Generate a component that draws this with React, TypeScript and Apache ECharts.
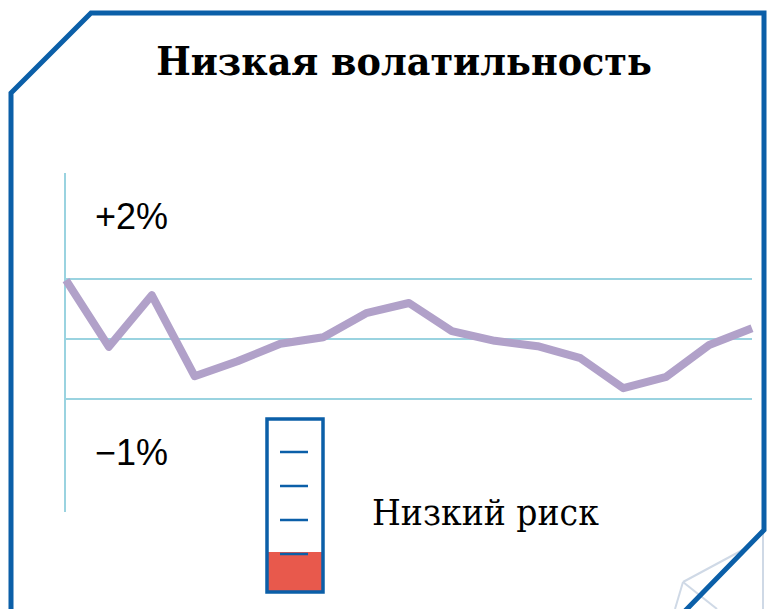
import React, { useEffect, useRef } from "react";
import * as echarts from "echarts";

const titleText = "Низкая волатильность";
const periods = ["1","2","3","4","5","6","7","8","9","10","11","12","13","14","15","16","17"];
const returns = [0.98, -0.13, 0.73, -0.62, -0.37, -0.08, 0.03, 0.43, 0.6, 0.13, -0.03, -0.12, -0.32, -0.82, -0.63, -0.1, 0.18];
const gridValues = [-1, 0, 1];
const scaleLabels = ["+2%", "−1%"];
const riskLabel = "Низкий риск";
const riskLevels = 4;
const riskLevel = 1;

const FRAME = "#0b5fa8";
const GRID = "#9ad3e0";
const LINE = "#b1a1c9";
const RED = "#e8594c";
const FAINT = "#cfd9e6";

export default function App() {
  const ref = useRef<HTMLDivElement>(null);
  useEffect(() => {
    const chart = echarts.init(ref.current!, null, { renderer: "svg" });

    const thermoX = 267, thermoY = 419, thermoW = 56, thermoH = 173;
    const thermo: any[] = [];
    const fillH = 40 * riskLevel;
    thermo.push({ type: "rect", shape: { x: thermoX, y: thermoY + thermoH - fillH, width: thermoW, height: fillH }, style: { fill: RED } });
    for (let i = 1; i <= riskLevels; i++) {
      const y = thermoY + thermoH - 38 - (i - 1) * 34;
      thermo.push({ type: "line", shape: { x1: 280, y1: y, x2: 308, y2: y }, style: { stroke: FRAME, lineWidth: 2.5 } });
    }
    thermo.push({ type: "rect", shape: { x: thermoX, y: thermoY, width: thermoW, height: thermoH }, style: { fill: "none", stroke: FRAME, lineWidth: 3.5 } });

    chart.setOption({
      animation: false,
      grid: { left: 66, right: 15, top: 279, bottom: 210 },
      xAxis: { type: "category", data: periods, boundaryGap: false, show: false },
      yAxis: {
        type: "value", min: gridValues[0], max: gridValues[gridValues.length - 1], interval: 1,
        axisLine: { show: false }, axisTick: { show: false }, axisLabel: { show: false },
        splitLine: { show: true, lineStyle: { color: GRID, width: 2 } },
      },
      series: [{
        type: "line", data: returns, symbol: "none", smooth: false,
        lineStyle: { color: LINE, width: 8, join: "round" }, z: 3,
      }],
      graphic: [
        { type: "line", shape: { x1: 683, y1: 582, x2: 750, y2: 546 }, style: { stroke: FAINT, lineWidth: 2 } },
        { type: "line", shape: { x1: 683, y1: 582, x2: 717, y2: 609 }, style: { stroke: FAINT, lineWidth: 2 } },
        { type: "line", shape: { x1: 683, y1: 582, x2: 675, y2: 609 }, style: { stroke: FAINT, lineWidth: 2 } },
        { type: "line", shape: { x1: 763, y1: 533, x2: 763, y2: 609 }, style: { stroke: FAINT, lineWidth: 2 } },
        { type: "polyline", shape: { points: [[11, 612], [11, 93], [91, 13], [764, 13], [764, 530], [684, 612]] }, style: { fill: "none", stroke: FRAME, lineWidth: 5 } },
        { type: "line", shape: { x1: 65, y1: 173, x2: 65, y2: 512 }, style: { stroke: GRID, lineWidth: 2 } },
        { type: "text", x: 404, y: 61, scaleX: 0.915, style: { text: titleText, font: "bold 40px 'DejaVu Serif'", fill: "#000", align: "center", verticalAlign: "middle" } },
        { type: "text", x: 95, y: 216, style: { text: scaleLabels[0], font: "36px 'Liberation Sans'", fill: "#000", align: "left", verticalAlign: "middle" } },
        { type: "text", x: 95, y: 452, style: { text: scaleLabels[1], font: "36px 'Liberation Sans'", fill: "#000", align: "left", verticalAlign: "middle" } },
        { type: "text", x: 372, y: 513, scaleX: 0.92, style: { text: riskLabel, font: "36px 'DejaVu Serif'", fill: "#000", align: "left", verticalAlign: "middle" } },
        ...thermo,
      ],
    });
    return () => chart.dispose();
  }, []);
  return <div ref={ref} style={{ position: "fixed", left: 0, top: 0, width: 767, height: 609, background: "#fff" }} />;
}
